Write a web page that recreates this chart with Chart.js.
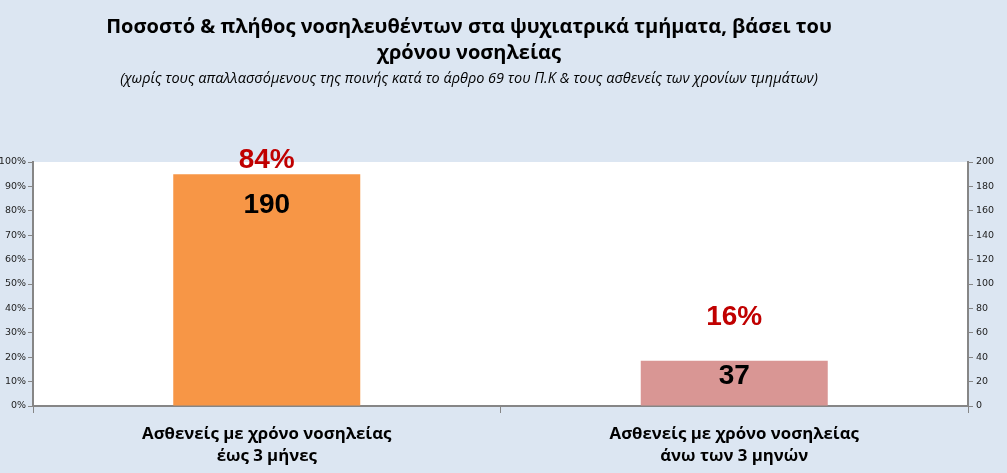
<!DOCTYPE html>
<html>
<head>
<meta charset="utf-8">
<script src="https://cdn.jsdelivr.net/npm/chart.js@4.4.0/dist/chart.umd.min.js"></script>
<style>
  html, body { margin: 0; padding: 0; background: #dce6f2; }
  #wrap { width: 1007px; height: 473px; position: relative; }
</style>
</head>
<body>
<div id="wrap"><canvas id="myChart"></canvas></div>
<script>
// Δεδομένα
const categories = [
    ['Ασθενείς με χρόνο νοσηλείας', 'έως 3 μήνες'],
    ['Ασθενείς με χρόνο νοσηλείας', 'άνω των 3 μηνών']
];
const patientCounts = [190, 37];
const patientPercents = [84, 16];
const barColors = ['#f79646', '#d99694'];

const titleLines = ['Ποσοστό & πλήθος νοσηλευθέντων στα ψυχιατρικά τμήματα, βάσει του', 'χρόνου νοσηλείας'];
const subtitleText = '(χωρίς τους απαλλασσόμενους της ποινής κατά το άρθρο 69 του Π.Κ & τους ασθενείς των χρονίων τμημάτων)';

const narrowFont = '"Open Sans", sans-serif';

// τίτλος σχεδιασμένος με το χέρι (δεν είναι κεντραρισμένος στο γράφημα)
const titlePlugin = {
    id: 'customTitle',
    afterDraw(chart) {
        const ctx = chart.ctx;
        ctx.save();
        ctx.fillStyle = '#000';
        ctx.textAlign = 'center';
        ctx.textBaseline = 'middle';
        ctx.font = 'bold 20px ' + narrowFont;
        ctx.fillText(titleLines[0], 469, 27);
        ctx.fillText(titleLines[1], 469, 53);
        ctx.font = 'italic 14.5px ' + narrowFont;
        ctx.fillText(subtitleText, 469, 79);
        ctx.restore();
    }
};

// ετικέτες τιμών: ποσοστό πάνω από τη στήλη, πλήθος μέσα
const labelsPlugin = {
    id: 'barLabels',
    afterDatasetsDraw(chart, args, opts) {
        const ctx = chart.ctx;
        const meta = chart.getDatasetMeta(0);
        ctx.save();
        ctx.textAlign = 'center';
        ctx.textBaseline = 'middle';
        ctx.font = 'bold 28px "Liberation Sans", Arial, sans-serif';
        meta.data.forEach((bar, i) => {
            ctx.fillStyle = '#c00000';
            ctx.fillText(patientPercents[i] + '%', bar.x, bar.y + opts.pctOffset[i]);
            ctx.fillStyle = '#000';
            ctx.fillText(String(patientCounts[i]), bar.x, bar.y + opts.countOffset[i]);
        });
        ctx.restore();
    }
};

const chartAreaBg = {
    id: 'chartAreaBg',
    beforeDraw(chart) {
        const { ctx, chartArea } = chart;
        ctx.save();
        ctx.fillStyle = '#ffffff';
        ctx.fillRect(chartArea.left, chartArea.top, chartArea.right - chartArea.left, chartArea.bottom - chartArea.top);
        ctx.restore();
    }
};

const axisGrey = '#868686';
const tickFont = { family: 'Tahoma, "DejaVu Sans", sans-serif', size: 9.5 };

const ctx = document.getElementById('myChart').getContext('2d');
const chart = new Chart(ctx, {
    type: 'bar',
    data: {
        labels: categories,
        datasets: [{
            label: 'Πλήθος',
            data: patientCounts,
            backgroundColor: barColors,
            yAxisID: 'y1',
            barPercentage: 0.4,
            categoryPercentage: 1.0
        }]
    },
    options: {
        responsive: true,
        maintainAspectRatio: false,
        animation: false,
        layout: { padding: { top: 162, left: 0, right: 0, bottom: 0 } },
        scales: {
            x: {
                grid: { display: true, drawOnChartArea: false, tickLength: 7, color: axisGrey, offset: true },
                border: { display: true, color: axisGrey, width: 2 },
                ticks: {
                    color: '#000',
                    font: { family: narrowFont, size: 16.8, weight: 'bold', lineHeight: 1.32 },
                    padding: 10,
                    maxRotation: 0
                },
                afterFit(scale) { scale.height = 67; }
            },
            y: {
                position: 'left',
                min: 0,
                max: 100,
                grid: { display: true, drawOnChartArea: false, tickLength: 5, color: axisGrey },
                border: { display: true, color: axisGrey, width: 2 },
                ticks: {
                    stepSize: 10,
                    color: '#222',
                    font: tickFont,
                    padding: 2,
                    callback: v => v + '%'
                },
                afterFit(scale) { scale.width = 33; }
            },
            y1: {
                position: 'right',
                min: 0,
                max: 200,
                grid: { display: true, drawOnChartArea: false, tickLength: 5, color: axisGrey },
                border: { display: true, color: axisGrey, width: 2 },
                ticks: {
                    stepSize: 20,
                    color: '#222',
                    font: tickFont,
                    padding: 3
                },
                afterFit(scale) { scale.width = 39; }
            }
        },
        plugins: {
            legend: { display: false },
            tooltip: { enabled: false },
            barLabels: {
                pctOffset: [-14, -44],
                countOffset: [31, 15]
            }
        }
    },
    plugins: [chartAreaBg, titlePlugin, labelsPlugin]
});
</script>
</body>
</html>
